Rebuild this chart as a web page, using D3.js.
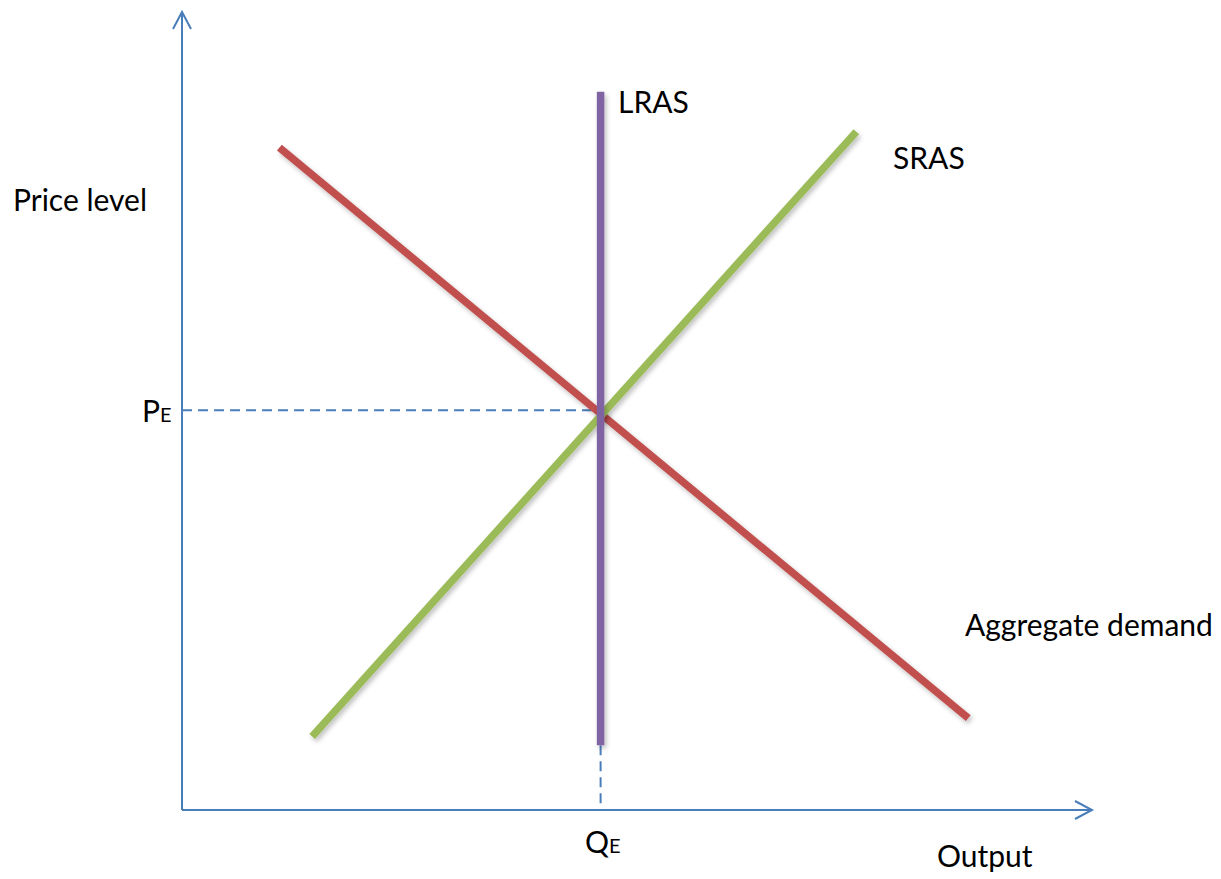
<!DOCTYPE html>
<html><head><meta charset="utf-8">
<script src="https://cdn.jsdelivr.net/npm/d3@7"></script>
<style>body{margin:0;background:#fff}svg{display:block}text{font-family:Lato,"Open Sans",sans-serif;fill:#000}</style>
</head><body><svg id="c" width="1221" height="879"></svg>
<script>
// Data (abstract units, 0-100 on both axes)
const curveNames = ["LRAS", "SRAS", "Aggregate demand"];
const lrasPoints = [[46, 8.1], [46, 90]];
const srasPoints = [[14.3, 9.2], [74.1, 85]];
const adPoints = [[10.7, 83], [86.4, 11.5]];
const equilibrium = {q: 46, p: 50.1};
const axisLabels = ["Price level", "Output"];
const eqLabels = ["P", "Q"];

const svg = d3.select("#c");
const x = d3.scaleLinear().domain([0, 100]).range([182, 1092]);
const y = d3.scaleLinear().domain([0, 100]).range([810, 12]);
const axisColor = "#4A7EBB";

const defs = svg.append("defs");
const f = defs.append("filter").attr("id","sh").attr("filterUnits","userSpaceOnUse")
  .attr("x",0).attr("y",0).attr("width",1221).attr("height",879);
f.append("feGaussianBlur").attr("in","SourceAlpha").attr("stdDeviation",2.5).attr("result","b");
f.append("feOffset").attr("in","b").attr("dx",2).attr("dy",3).attr("result","o");
f.append("feComponentTransfer").attr("in","o").attr("result","o2").append("feFuncA").attr("type","linear").attr("slope",0.25);
const m = f.append("feMerge"); m.append("feMergeNode").attr("in","o2"); m.append("feMergeNode").attr("in","SourceGraphic");

// Axes
svg.append("line").attr("x1", x(0)).attr("y1", y(0)).attr("x2", x(0)).attr("y2", y(100))
  .attr("stroke", axisColor).attr("stroke-width", 2);
svg.append("line").attr("x1", x(0)).attr("y1", y(0)).attr("x2", x(100)).attr("y2", y(0))
  .attr("stroke", axisColor).attr("stroke-width", 2);
// arrowheads
svg.append("path").attr("d", `M${x(0)-9},${y(100)+17} L${x(0)},${y(100)} L${x(0)+9},${y(100)+17}`)
  .attr("fill","none").attr("stroke",axisColor).attr("stroke-width",2);
svg.append("path").attr("d", `M${x(100)-17},${y(0)-9} L${x(100)},${y(0)} L${x(100)-17},${y(0)+9}`)
  .attr("fill","none").attr("stroke",axisColor).attr("stroke-width",2);

// Dashed guides
svg.append("line").attr("x1", x(0)).attr("x2", x(equilibrium.q)).attr("y1", y(equilibrium.p)).attr("y2", y(equilibrium.p))
  .attr("stroke", axisColor).attr("stroke-width", 2).attr("stroke-dasharray", "10,6");
svg.append("line").attr("x1", x(equilibrium.q)).attr("x2", x(equilibrium.q)).attr("y1", y(lrasPoints[0][1])).attr("y2", y(0))
  .attr("stroke", axisColor).attr("stroke-width", 2).attr("stroke-dasharray", "10,6");

// Curves
const line = d3.line().x(d => x(d[0])).y(d => y(d[1]));
const curves = [
  {pts: adPoints, color: "#C0504D"},
  {pts: srasPoints, color: "#9BBB59"},
  {pts: lrasPoints, color: "#8064A2"}
];
svg.selectAll("path.curve").data(curves).join("path").attr("class","curve")
  .attr("d", d => line(d.pts)).attr("fill","none").attr("stroke", d => d.color)
  .attr("stroke-width", 7.5).attr("stroke-linecap","butt").attr("filter","url(#sh)");

// Labels
const fs = 30;
svg.append("text").attr("x", 13).attr("y", 211).attr("font-size", fs).text(axisLabels[0]);
svg.append("text").attr("x", 937).attr("y", 867).attr("font-size", fs).text(axisLabels[1]);
svg.append("text").attr("x", 618).attr("y", 113).attr("font-size", fs).text(curveNames[0]);
svg.append("text").attr("x", 893).attr("y", 169).attr("font-size", fs).text(curveNames[1]);
svg.append("text").attr("x", 965).attr("y", 636).attr("font-size", fs).text(curveNames[2]);

const pe = svg.append("text").attr("x", 142).attr("y", 422).attr("font-size", fs);
pe.append("tspan").text(eqLabels[0]);
pe.append("tspan").attr("font-size", 20).text("E");
const qe = svg.append("text").attr("x", 585).attr("y", 853).attr("font-size", fs);
qe.append("tspan").text(eqLabels[1]);
qe.append("tspan").attr("font-size", 20).text("E");
</script></body></html>
